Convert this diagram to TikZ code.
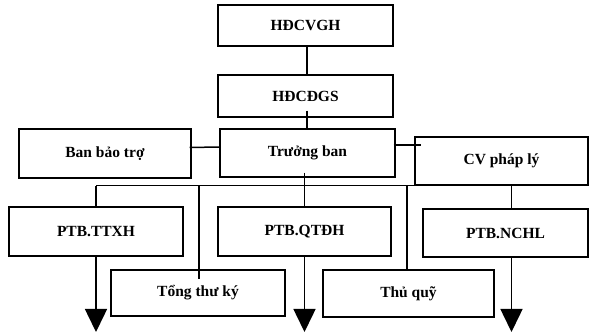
\documentclass[tikz,border=0pt]{standalone}
\usepackage{fontspec}
\setmainfont{Liberation Serif}
\usetikzlibrary{arrows.meta,positioning}

\begin{document}
\begin{tikzpicture}[x=1pt, y=-1pt,
        box/.style={draw, line width=1.4pt, inner sep=0pt,
                font=\fontsize{15.5}{18}\selectfont\bfseries},
        link/.style={line width=1.5pt},
        down/.style={link, -{Triangle[width=22pt, length=23pt]}}]
        \useasboundingbox (0, 0) rectangle (590, 334);

        % upper part
        \node[box, minimum width=175pt, minimum height=41pt] (hdcvgh) at (305.5, 25.5) {HĐCVGH};
        \node[box, minimum width=175pt, minimum height=42pt] (hdcdgs) at (305.5, 96) {HĐCĐGS};
        \node[box, minimum width=172pt, minimum height=49pt] (banbaotro) at (105, 153.5) {Ban bảo trợ};
        \node[box, minimum width=175pt, minimum height=48pt] (truongban) at (307.5, 153) {Trưởng ban};
        \node[box, minimum width=173pt, minimum height=48pt] (cvphaply) at (501.5, 161) {CV pháp lý};

        % lower part
        \node[box, minimum width=174pt, minimum height=49pt] (ttxh) at (96, 231.5) {PTB.TTXH};
        \node[box, minimum width=173pt, minimum height=49pt] (qtdh) at (304.5, 231.5) {PTB.QTĐH};
        \node[box, minimum width=165pt, minimum height=48pt] (nchl) at (505.5, 233) {PTB.NCHL};
        \node[box, minimum width=174pt, minimum height=46pt] (tongthuky) at (198, 293) {Tổng thư ký};
        \node[box, minimum width=171pt, minimum height=47pt] (thuquy) at (408.5, 293.5) {Thủ quỹ};

        \coordinate (bottom) at (0, 332);
        \coordinate (tb-cv) at ([yshift=8pt]truongban.east);

        \draw[link] ([xshift=1.5pt]hdcvgh.south) -- ([xshift=1.5pt]hdcdgs.north);
        \draw[link] ([xshift=1.5pt, yshift=7pt]hdcdgs.south) -- ([xshift=-0.5pt]truongban.north);
        \draw[link] ([xshift=-2pt, yshift=6pt]banbaotro.east) -- ([yshift=6pt]truongban.west);
        \draw[link] ([xshift=-2pt]tb-cv) -- ([xshift=7pt]tb-cv -| cvphaply.west);

        \draw[link] (ttxh.north |- cvphaply.south) -- (cvphaply.south west);
        \draw[link] (ttxh.north |- cvphaply.south) -- (ttxh.north);
        \draw[link] ([yshift=5pt]qtdh.north |- truongban.south) -- (qtdh.north);
        \draw[link] ([xshift=1pt]tongthuky.north |- cvphaply.south) -- ([xshift=1pt, yshift=-10pt]tongthuky.north);
        \draw[link] ([xshift=-1.5pt]thuquy.north |- cvphaply.south) -- ([xshift=-1.5pt]thuquy.north);
        \draw[link] ([xshift=6pt]nchl.north |- cvphaply.south) -- ([xshift=6pt]nchl.north);

        \draw[down] (ttxh.south) -- (ttxh.south |- bottom);
        \draw[down] (qtdh.south) -- (qtdh.south |- bottom);
        \draw[down] ([xshift=6pt]nchl.south) -- ([xshift=6pt]nchl.south |- bottom);
\end{tikzpicture}
\end{document}
